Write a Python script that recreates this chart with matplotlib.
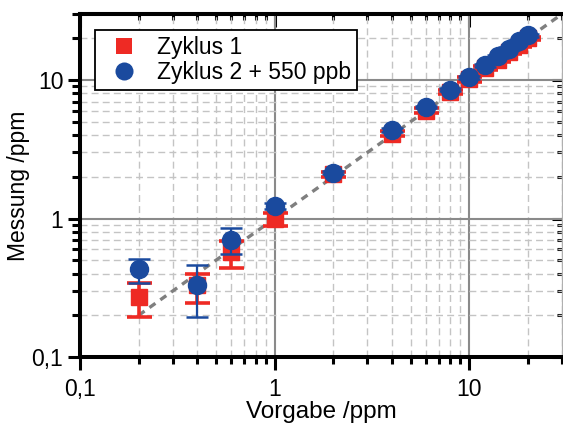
import matplotlib
matplotlib.use("Agg")
import matplotlib.pyplot as plt
from matplotlib.lines import Line2D
from matplotlib.ticker import FixedLocator, FixedFormatter, LogLocator, NullFormatter
import numpy as np

plt.rcParams['font.family'] = ['Liberation Sans', 'DejaVu Sans']

# Data
x_low = [0.2, 0.4, 0.6, 1.0]
x_high = [2, 4, 6, 8, 10, 12, 14, 16, 18, 20]
vorgabe = x_low + x_high

zyklus1 = [0.27, 0.33, 0.57, 1.0, 2.08, 4.1, 6.0, 8.2, 10.1, 12.2, 14.0, 16.0, 18.0, 20.0]
zyklus1_err_lo = [0.075, 0.085, 0.13, 0.11, 0.10, 0.18, 0.25, 0.3, 0.35, 0.4, 0.45, 0.5, 0.55, 0.6]
zyklus1_err_hi = [0.07, 0.07, 0.12, 0.10, 0.10, 0.18, 0.25, 0.3, 0.35, 0.4, 0.45, 0.5, 0.55, 0.6]

zyklus2 = [0.43, 0.33, 0.705, 1.24, 2.15, 4.35, 6.4, 8.5, 10.45, 12.8, 14.8, 16.8, 19.0, 21.0]
zyklus2_err_lo = [0.09, 0.135, 0.155, 0.06, 0.06, 0.12, 0.15, 0.2, 0.25, 0.3, 0.35, 0.4, 0.45, 0.5]
zyklus2_err_hi = [0.08, 0.135, 0.145, 0.06, 0.06, 0.12, 0.15, 0.2, 0.25, 0.3, 0.35, 0.4, 0.45, 0.5]

ideal_x = [0.2, 30]

ticks = [0.1, 1, 10]
tick_labels = ['0,1', '1', '10']

red = '#ee2a24'
blue = '#1a4a9e'
FS = 16.5

fig = plt.figure(figsize=(5.63, 4.26), dpi=100)
ax = fig.add_axes([80/563, 1-357/426, (562-80)/563, (357-14)/426])

ax.set_xscale('log')
ax.set_yscale('log')
ax.set_xlim(0.1, 30)
ax.set_ylim(0.1, 30)

# grid
ax.set_axisbelow(True)
ax.grid(which='major', color='#8a8a8a', linestyle='-', linewidth=1.5, zorder=0)
ax.grid(which='minor', color='#c4c4c4', linestyle=(0, (5, 3)), linewidth=1.0, zorder=0)

# diagonal
ax.plot(ideal_x, ideal_x, color='#7f7f7f', linestyle=(0, (2.2, 1.8)), linewidth=2.4, zorder=2)

ax.errorbar(vorgabe, zyklus1, yerr=[zyklus1_err_lo, zyklus1_err_hi], fmt='s',
            color=red, markersize=11, elinewidth=2.6, capsize=9, capthick=2.6,
            zorder=3, ecolor=red)
ax.errorbar(vorgabe, zyklus2, yerr=[zyklus2_err_lo, zyklus2_err_hi], fmt='o',
            color=blue, markersize=13, elinewidth=1.6, capsize=8, capthick=1.8,
            zorder=4, ecolor=blue)

# ticks
for axis in (ax.xaxis, ax.yaxis):
    axis.set_major_locator(FixedLocator(ticks))
    axis.set_major_formatter(FixedFormatter(tick_labels))
    axis.set_minor_locator(LogLocator(base=10, subs=np.arange(2, 10), numticks=20))
    axis.set_minor_formatter(NullFormatter())

ax.tick_params(axis='both', which='both', labelsize=FS, width=2.2, color='black')
ax.tick_params(axis='x', which='major', direction='out', length=9, pad=6, top=False)
ax.tick_params(axis='x', which='minor', direction='out', length=5, top=False)
ax.tick_params(axis='y', which='major', direction='out', length=9, pad=3, right=False)
ax.tick_params(axis='y', which='minor', direction='out', length=5.5, right=False)

# inward ticks on top and right via secondary axes
secx = ax.secondary_xaxis('top')
secx.set_xscale('log')
secx.xaxis.set_major_locator(FixedLocator(ticks))
secx.xaxis.set_minor_locator(LogLocator(base=10, subs=np.arange(2, 10), numticks=20))
secx.xaxis.set_major_formatter(NullFormatter())
secx.xaxis.set_minor_formatter(NullFormatter())
secx.tick_params(which='major', direction='in', length=9, width=2.2)
secx.tick_params(which='minor', direction='in', length=4.5, width=2.2)
secx.spines['top'].set_linewidth(2.9)

secy = ax.secondary_yaxis('right')
secy.set_yscale('log')
secy.yaxis.set_major_locator(FixedLocator(ticks))
secy.yaxis.set_minor_locator(LogLocator(base=10, subs=np.arange(2, 10), numticks=20))
secy.yaxis.set_major_formatter(NullFormatter())
secy.yaxis.set_minor_formatter(NullFormatter())
secy.tick_params(which='major', direction='in', length=7, width=2.2)
secy.tick_params(which='minor', direction='in', length=3.5, width=2.2)
secy.spines['right'].set_linewidth(0.8)
secy.spines['right'].set_color('#b0b0b0')

for name, s in ax.spines.items():
    s.set_linewidth(2.9)
ax.spines['right'].set_linewidth(0.8)
ax.spines['right'].set_color('#b0b0b0')

ax.set_xlabel('Vorgabe /ppm', fontsize=17.5, labelpad=0)
ax.set_ylabel('Messung /ppm', fontsize=FS, labelpad=1)

handles = [
    Line2D([], [], marker='s', linestyle='none', color=red, markersize=11, markeredgewidth=0),
    Line2D([], [], marker='o', linestyle='none', color=blue, markersize=13, markeredgewidth=0),
]
leg = ax.legend(handles, ['Zyklus 1', 'Zyklus 2 + 550 ppb'], loc='upper left',
                bbox_to_anchor=((95-80)/482, 1-(30-14)/343), borderaxespad=0,
                fontsize=FS, frameon=True, fancybox=False, framealpha=1,
                edgecolor='black', borderpad=0.25, labelspacing=0.12,
                handlelength=2.0, handletextpad=0.45)
leg.get_frame().set_linewidth(1.3)
leg.set_zorder(10)

fig.savefig('out.png', dpi=100)
